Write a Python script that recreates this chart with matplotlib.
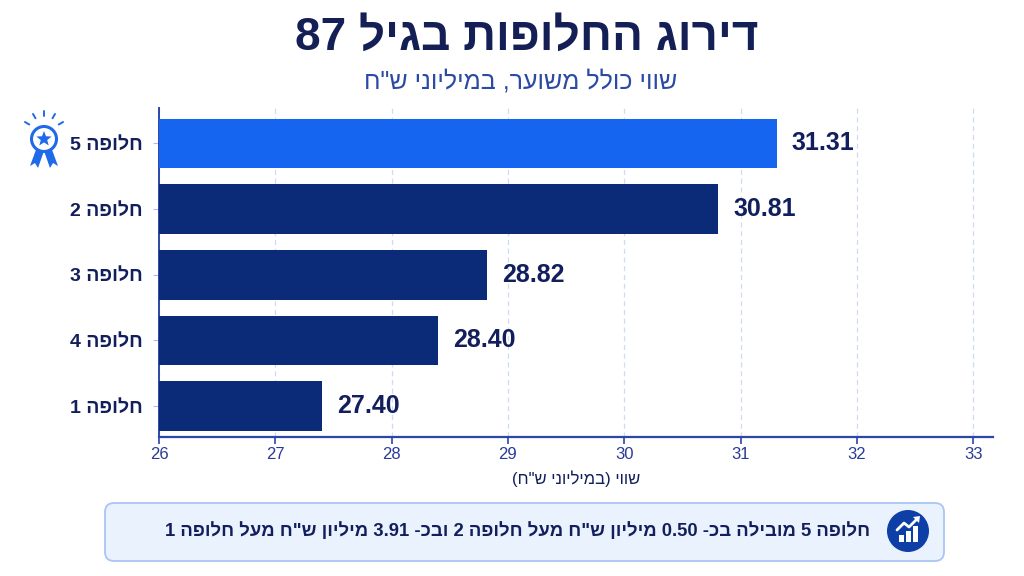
import matplotlib
matplotlib.use("Agg")
import matplotlib.pyplot as plt
import matplotlib.patches as mpatches
import numpy as np
import re

plt.rcParams['font.family'] = ['Liberation Sans', 'DejaVu Sans']

# data (top to bottom)
alt_names = ["חלופה 5", "חלופה 2", "חלופה 3", "חלופה 4", "חלופה 1"]
values = [31.31, 30.81, 28.82, 28.40, 27.40]
x_ticks = [26, 27, 28, 29, 30, 31, 32, 33]

title = "דירוג החלופות בגיל 87"
subtitle = "שווי כולל משוער, במיליוני ש\"ח"
x_label = "שווי (במיליוני ש\"ח)"

NAVY = "#0b2a78"
BRIGHT = "#1565f0"
TXT = "#121f5c"
AXC = "#2c46a8"
GRID = "#cddbf6"

MIRROR = {"(": ")", ")": "(", "[": "]", "]": "["}


def heb(s):
    # very small bidi: reverse string, keep number runs LTR
    toks = re.findall(r"[0-9][0-9.,]*|.", s)
    out = []
    for t in reversed(toks):
        out.append(MIRROR.get(t, t))
    return "".join(out)


fig = plt.figure(figsize=(10.24, 5.76), dpi=100)
fig.patch.set_facecolor("white")

ax = fig.add_axes([159 / 1024, 1 - 437 / 576, (993 - 159) / 1024, (437 - 108) / 576])
ypos = np.arange(len(values))
colors = [BRIGHT] + [NAVY] * (len(values) - 1)
ax.barh(ypos, values, height=0.76, color=colors, zorder=3)
ax.set_xlim(26, 26 + (993 - 159) / 116.3)
ax.set_ylim(len(values) - 1 + 0.47, -0.54)

for i, v in enumerate(values):
    ax.text(v + 0.13, i, f"{v:.2f}", va="center", ha="left", fontsize=18,
            fontweight="bold", color=TXT, zorder=4)

ax.set_xticks(x_ticks)
ax.set_xticklabels([str(t) for t in x_ticks], fontsize=12, color="#2a3a96")
ax.set_yticks(ypos)
ax.set_yticklabels([heb(n) for n in alt_names], fontsize=14, fontweight="bold", color=TXT)
ax.tick_params(axis="y", length=4, color="#a9bdf0", pad=8)
ax.tick_params(axis="x", length=5, color=AXC, width=1.2, pad=2)
ax.grid(axis="x", color=GRID, linestyle=(0, (4, 3)), linewidth=0.9, zorder=0)
for s in ["top", "right"]:
    ax.spines[s].set_visible(False)
ax.spines["left"].set_color(AXC)
ax.spines["bottom"].set_color(AXC)
ax.spines["left"].set_linewidth(1.4)
ax.spines["bottom"].set_linewidth(1.6)
ax.set_xlabel(heb(x_label), fontsize=12, color=TXT, labelpad=6)

fig.text(527 / 1024, 1 - 38 / 576, heb(title), ha="center", va="center",
         fontsize=33, fontweight="bold", color="#141f55")
fig.text(521 / 1024, 1 - 81 / 576, heb(subtitle), ha="center", va="center",
         fontsize=18, color="#2a4aa3")

# overlay in pixel coords for the decorations
ov = fig.add_axes([0, 0, 1, 1], zorder=5)
ov.set_xlim(0, 1024)
ov.set_ylim(576, 0)
ov.axis("off")

# summary box
lead = values[0] - values[1]
lead_last = values[0] - values[-1]
summary = (f"{alt_names[0]} מובילה בכ- {lead:.2f} מיליון ש\"ח מעל {alt_names[1]} "
           f"ובכ- {lead_last:.2f} מיליון ש\"ח מעל {alt_names[-1]}")
box = mpatches.FancyBboxPatch((105, 503), 839, 58, boxstyle="round,pad=0,rounding_size=9",
                              facecolor="#eaf2fd", edgecolor="#a9c5f2", linewidth=1.3)
ov.add_patch(box)
ov.text(870, 531, heb(summary), ha="right", va="center", fontsize=13.3,
        fontweight="bold", color=TXT)

# chart icon
cx, cy = 908, 531
ov.add_patch(mpatches.Circle((cx, cy), 21, facecolor="#0d3fa6", edgecolor="none"))
for bx, bh in [(-9, 7), (-2, 11), (5, 16)]:
    ov.add_patch(mpatches.Rectangle((cx + bx, cy + 11 - bh), 5, bh, facecolor="white"))
ov.plot([cx - 11, cx - 4, cx + 1, cx + 9], [cy - 1, cy - 8, cy - 4, cy - 12],
        color="white", linewidth=2, solid_capstyle="round")
ov.add_patch(mpatches.Polygon([[cx + 12, cy - 15], [cx + 5, cy - 14], [cx + 11, cy - 8]],
                              facecolor="white", edgecolor="none"))

# ribbon icon
rx, ry = 44, 139
RC = "#1f6ae8"
ov.add_patch(mpatches.Polygon([[rx - 7, ry + 8], [rx - 14, ry + 27], [rx - 9, ry + 24],
                               [rx - 6, ry + 29], [rx, ry + 12]], facecolor=RC))
ov.add_patch(mpatches.Polygon([[rx + 7, ry + 8], [rx + 14, ry + 27], [rx + 9, ry + 24],
                               [rx + 6, ry + 29], [rx, ry + 12]], facecolor=RC))
ov.add_patch(mpatches.Circle((rx, ry), 12.5, facecolor="white", edgecolor=RC, linewidth=2.2))
ang = np.linspace(-np.pi / 2, 1.5 * np.pi, 11)[:-1]
rad = np.where(np.arange(10) % 2 == 0, 8, 3.4)
ov.add_patch(mpatches.Polygon(np.c_[rx + rad * np.cos(ang), ry + rad * np.sin(ang)],
                              facecolor=RC))
for a in np.deg2rad([-150, -120, -90, -60, -30]):
    ov.plot([rx + 17 * np.cos(a), rx + 22 * np.cos(a)],
            [ry - 6 + 17 * np.sin(a), ry - 6 + 22 * np.sin(a)],
            color=RC, linewidth=1.4, solid_capstyle="round")

fig.savefig("out.png", dpi=100, facecolor="white")
